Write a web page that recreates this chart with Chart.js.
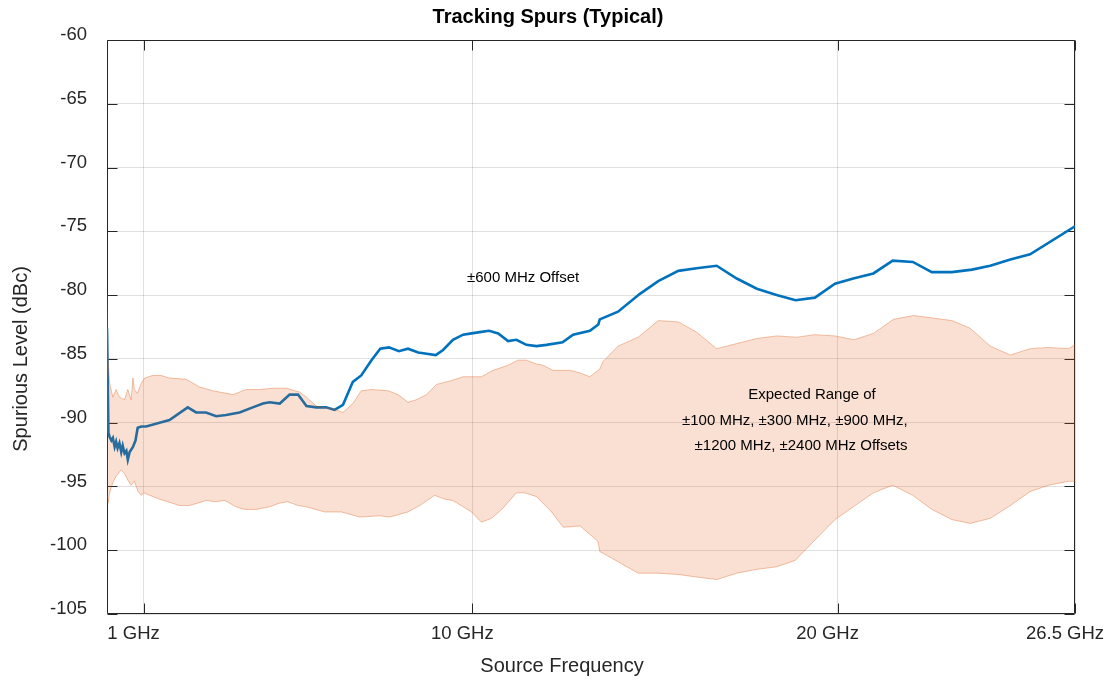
<!DOCTYPE html>
<html>
<head>
<meta charset="utf-8">
<script src="https://cdn.jsdelivr.net/npm/chart.js@4.4.1/dist/chart.umd.min.js"></script>
<style>
  html, body { margin: 0; padding: 0; background: #fff; }
  #wrap { width: 1106px; height: 683px; }
</style>
</head>
<body>
<div id="wrap"><canvas id="chart" width="1106" height="683"></canvas></div>
<script>
// values (GHz / dBc)
const xTickValues = [1, 10, 20, 26.5];
const yMin = -105, yMax = -60, yStep = 5;

// ±600 MHz offset trace
const offsetFreq = [0.0, 0.04, 0.07, 0.12, 0.16, 0.21, 0.25, 0.29, 0.34, 0.39, 0.43, 0.48, 0.53, 0.57, 0.62, 0.71, 0.78, 0.84, 0.94, 1.07,
  1.44, 1.71, 2.21, 2.44, 2.71, 2.99, 3.26, 3.63, 3.99, 4.27, 4.45, 4.73, 5.0, 5.23, 5.46, 5.73, 6.0, 6.23, 6.46, 6.73,
  6.96, 7.24, 7.48, 7.72, 7.99, 8.24, 8.52, 8.75, 9.0, 9.2, 9.47, 9.75, 9.98, 10.2, 10.46, 10.71, 10.98, 11.21, 11.48, 11.76,
  12.03, 12.47, 12.76, 13.22, 13.45, 13.49, 13.99, 14.59, 15.09, 15.64, 16.14, 16.69, 17.24, 17.79, 18.33, 18.85, 19.38, 19.93, 20.43, 20.98,
  21.51, 22.06, 22.58, 23.13, 23.68, 24.18, 24.73, 25.27, 26.5];
const offsetLevel = [-82.6, -90.8, -91.1, -91.4, -91.2, -91.9, -91.5, -92.0, -91.6, -92.3, -91.8, -92.4, -92.2, -92.9, -92.3, -91.9, -91.4, -90.4, -90.3, -90.3,
  -90.0, -89.8, -88.8, -89.2, -89.2, -89.5, -89.4, -89.2, -88.8, -88.5, -88.4, -88.5, -87.8, -87.8, -88.7, -88.8, -88.8, -89.0, -88.6, -86.8,
  -86.3, -85.1, -84.2, -84.1, -84.4, -84.2, -84.5, -84.6, -84.7, -84.3, -83.5, -83.1, -83.0, -82.9, -82.8, -83.0, -83.6, -83.5, -83.9, -84.0,
  -83.9, -83.7, -83.1, -82.8, -82.3, -81.9, -81.3, -79.9, -78.9, -78.1, -77.9, -77.7, -78.7, -79.5, -80.0, -80.4, -80.2, -79.1, -78.7, -78.3,
  -77.3, -77.4, -78.2, -78.2, -78.0, -77.7, -77.2, -76.8, -74.6];

// expected range band, upper edge
const upperFreq = [0.0, 0.03, 0.07, 0.16, 0.25, 0.34, 0.48, 0.57, 0.66, 0.71, 0.75, 0.83, 0.94, 1.03, 1.25, 1.48, 1.71, 2.17, 2.53, 2.9,
  3.45, 3.81, 4.18, 4.54, 4.91, 5.27, 5.46, 5.73, 6.19, 6.46, 6.73, 6.96, 7.24, 7.7, 7.97, 8.24, 8.47, 8.75, 9.02, 9.43,
  9.75, 10.25, 10.57, 10.98, 11.25, 11.48, 11.76, 11.94, 12.21, 12.67, 12.95, 13.22, 13.49, 13.58, 13.99, 14.54, 15.09, 15.64, 16.14, 16.69,
  17.24, 17.79, 18.33, 18.88, 19.38, 19.93, 20.45, 20.98, 21.53, 22.08, 22.62, 23.13, 23.63, 24.18, 24.73, 25.27, 25.77, 26.32, 26.5];
const upperLevel = [-80.0, -85.0, -86.9, -88.0, -87.4, -88.0, -88.2, -87.4, -88.2, -86.5, -87.4, -87.7, -86.9, -86.5, -86.3, -86.3, -86.5, -86.6, -87.2, -87.5,
  -87.8, -87.4, -87.4, -87.3, -87.3, -87.6, -88.0, -88.7, -88.9, -89.2, -88.5, -87.5, -87.4, -87.5, -87.8, -88.4, -88.2, -87.8, -87.0, -86.7,
  -86.4, -86.4, -85.9, -85.5, -85.1, -85.1, -85.4, -85.5, -85.9, -85.9, -86.1, -86.4, -85.8, -85.2, -84.0, -83.3, -82.0, -82.1, -82.9, -84.2,
  -83.8, -83.4, -83.2, -83.3, -83.1, -83.2, -83.5, -83.0, -81.9, -81.6, -81.8, -82.0, -82.6, -84.0, -84.7, -84.2, -84.1, -84.2, -83.9];

// expected range band, lower edge
const lowerFreq = [0.0, 0.03, 0.07, 0.16, 0.25, 0.39, 0.48, 0.57, 0.66, 0.75, 0.85, 0.94, 1.0, 1.44, 1.99, 2.26, 2.72, 2.95, 3.22, 3.54,
  3.77, 4.09, 4.45, 4.73, 4.95, 5.23, 5.46, 5.96, 6.42, 6.92, 7.47, 7.74, 8.24, 8.56, 8.97, 9.25, 9.47, 9.98, 10.25, 10.53,
  10.84, 11.21, 11.44, 11.76, 12.17, 12.49, 12.95, 13.44, 13.49, 13.99, 14.54, 15.09, 15.64, 16.14, 16.69, 17.24, 17.79, 18.33, 18.84, 19.38,
  19.93, 20.48, 20.98, 21.51, 22.06, 22.58, 23.13, 23.63, 24.18, 24.73, 25.27, 25.78, 26.32, 26.5];
const lowerLevel = [-95.5, -96.3, -95.5, -94.7, -94.2, -93.7, -94.0, -94.5, -94.9, -94.6, -95.4, -95.7, -95.5, -96.0, -96.5, -96.5, -96.1, -96.2, -96.1, -96.6,
  -96.8, -96.8, -96.6, -96.3, -96.2, -96.5, -96.6, -97.0, -97.0, -97.4, -97.3, -97.4, -97.0, -96.5, -95.7, -96.0, -96.1, -97.0, -97.8, -97.5,
  -96.7, -95.5, -95.5, -95.8, -97.0, -98.2, -98.1, -99.3, -100.1, -100.9, -101.8, -101.8, -101.9, -102.1, -102.3, -101.8, -101.5, -101.3, -100.8, -99.2,
  -97.6, -96.5, -95.5, -94.9, -95.7, -96.8, -97.6, -97.9, -97.5, -96.5, -95.4, -94.9, -94.6, -94.6];

const toPoints = (xs, ys) => xs.map((x, i) => ({ x: x, y: ys[i] }));

const FONT = '"Liberation Sans", Arial, Helvetica, sans-serif';
const AXIS_COLOR = '#262626';

// text placed in data units, like the annotations of the original figure
const notes = [
  { x: 11.39, y: -78.66, text: '±600 MHz Offset' },
  { x: 19.3, y: -87.83, text: 'Expected Range of' },
  { x: 18.83, y: -89.87, text: '±100 MHz, ±300 MHz, ±900 MHz,' },
  { x: 19.0, y: -91.83, text: '±1200 MHz, ±2400 MHz Offsets' }
];

// box around the axes with inward tick marks (drawn under the data)
const axesBox = {
  id: 'axesBox',
  beforeDatasetsDraw(chart) {
    const { ctx, chartArea: a, scales: { x, y } } = chart;
    const L = Math.round(a.left) + 0.5, R = Math.round(a.right) - 0.5;
    const T = Math.round(a.top) + 0.5, B = Math.round(a.bottom) - 0.5;
    ctx.save();
    ctx.strokeStyle = AXIS_COLOR;
    ctx.lineWidth = 1;
    ctx.beginPath();
    ctx.rect(L, T, R - L, B - T);
    for (let v = yMin; v <= yMax; v += yStep) {
      const py = Math.round(y.getPixelForValue(v)) + 0.5;
      ctx.moveTo(L, py); ctx.lineTo(L + 10, py);
      ctx.moveTo(R, py); ctx.lineTo(R - 10, py);
    }
    xTickValues.forEach(v => {
      const px = Math.round(x.getPixelForValue(v)) + 0.5;
      ctx.moveTo(px, B); ctx.lineTo(px, B - 10);
      ctx.moveTo(px, T); ctx.lineTo(px, T + 10);
    });
    ctx.stroke();
    ctx.restore();
  },
  afterDraw(chart) {
    const { ctx, scales: { x, y } } = chart;
    ctx.save();
    ctx.textAlign = 'center';
    ctx.textBaseline = 'middle';

    ctx.fillStyle = '#000';
    ctx.font = 'bold 20px ' + FONT;
    ctx.fillText('Tracking Spurs (Typical)', 548, 17);

    ctx.fillStyle = AXIS_COLOR;
    ctx.font = '20px ' + FONT;
    ctx.fillText('Source Frequency', 562, 666);

    ctx.save();
    ctx.translate(21, 359);
    ctx.rotate(-Math.PI / 2);
    ctx.fillText('Spurious Level (dBc)', 0, 0);
    ctx.restore();

    ctx.fillStyle = '#000';
    ctx.font = '15px ' + FONT;
    notes.forEach(n => ctx.fillText(n.text, x.getPixelForValue(n.x), y.getPixelForValue(n.y)));
    ctx.restore();
  }
};

new Chart(document.getElementById('chart'), {
  type: 'line',
  data: {
    datasets: [
      {
        label: '±600 MHz Offset',
        data: toPoints(offsetFreq, offsetLevel),
        borderColor: '#0072BD',
        borderWidth: 2.6,
        pointRadius: 0,
        fill: false,
        order: 3
      },
      {
        label: 'Expected Range (upper)',
        data: toPoints(upperFreq, upperLevel),
        borderColor: 'rgba(222,83,11,0.35)',
        backgroundColor: 'rgba(222,83,11,0.18)',
        borderWidth: 1,
        pointRadius: 0,
        fill: '+1',
        order: 1
      },
      {
        label: 'Expected Range (lower)',
        data: toPoints(lowerFreq, lowerLevel),
        borderColor: 'rgba(222,83,11,0.35)',
        borderWidth: 1,
        pointRadius: 0,
        fill: false,
        order: 2
      }
    ]
  },
  options: {
    responsive: false,
    animation: false,
    layout: { padding: { top: 40, right: 31, left: 0, bottom: 0 } },
    plugins: {
      legend: { display: false },
      tooltip: { enabled: false },
      title: { display: false }
    },
    scales: {
      x: {
        type: 'linear',
        min: 0,
        max: 26.5,
        border: { display: false },
        grid: { color: 'rgba(0,0,0,0.12)', drawTicks: false },
        afterBuildTicks: scale => { scale.ticks = xTickValues.map(v => ({ value: v })); },
        afterFit: scale => { scale.height = 69; scale.paddingLeft = 0; scale.paddingRight = 0; },
        ticks: {
          autoSkip: false,
          maxRotation: 0,
          padding: 9,
          labelOffset: -10,
          color: AXIS_COLOR,
          font: { family: FONT, size: 18.5 },
          callback: v => v + ' GHz'
        }
      },
      y: {
        min: yMin,
        max: yMax,
        border: { display: false },
        grid: { color: 'rgba(0,0,0,0.12)', drawTicks: false },
        afterFit: scale => { scale.width = 107; },
        ticks: {
          stepSize: yStep,
          padding: 20,
          labelOffset: -5,
          color: AXIS_COLOR,
          font: { family: FONT, size: 18.5 }
        }
      }
    }
  },
  plugins: [axesBox]
});
</script>
</body>
</html>
